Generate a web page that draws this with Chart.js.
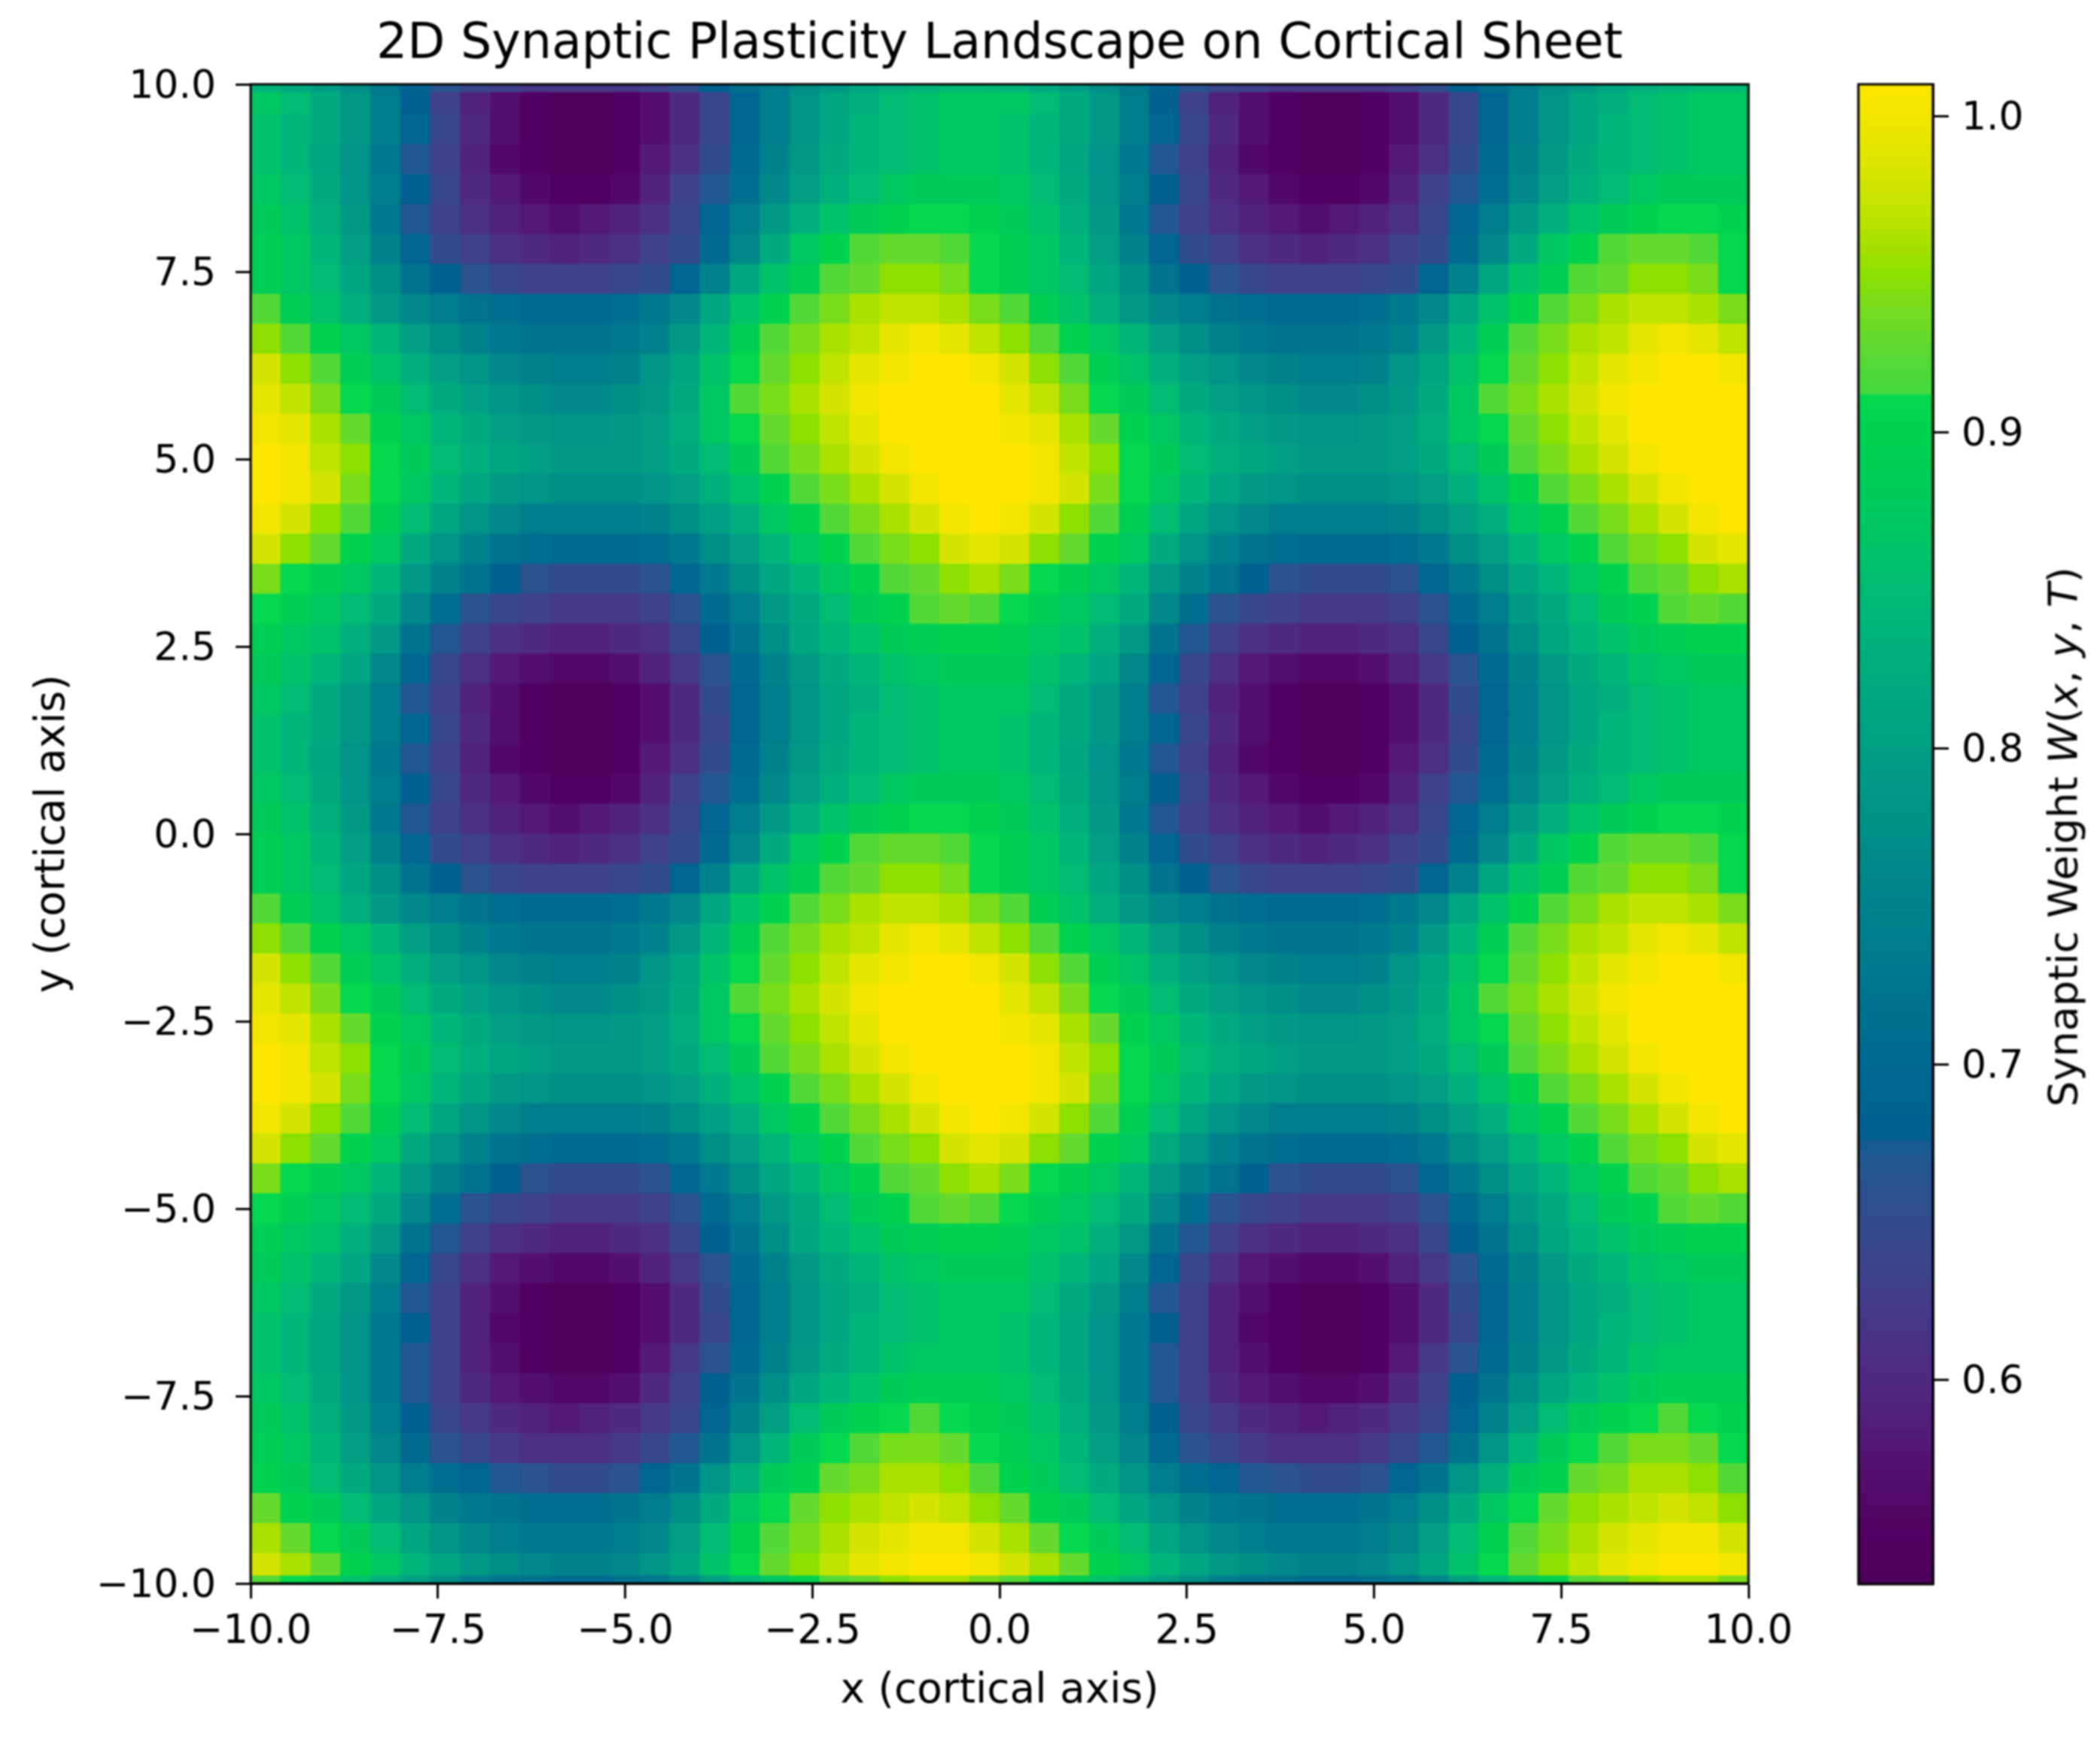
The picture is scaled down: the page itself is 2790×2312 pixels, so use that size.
<!DOCTYPE html>
<html><head><meta charset="utf-8">
<script src="https://cdn.jsdelivr.net/npm/chart.js@4"></script>
<style>
html,body{margin:0;padding:0;background:#fff;width:2790px;height:2312px;overflow:hidden}
#page{position:absolute;left:0;top:0;width:2790px;height:2312px;filter:blur(1.2px)}
canvas{position:absolute;top:0}
#main{left:0}
#bar{left:2400px}
#cbLabel{position:absolute;left:2741px;top:1112px;transform:translate(-50%,-50%) rotate(-90deg);white-space:nowrap;font:54px "DejaVu Sans";color:#000}
</style></head><body>
<div id="page">
<canvas id="main" width="2400" height="2312"></canvas>
<canvas id="bar" width="390" height="2312"></canvas>
<div id="cbLabel">Synaptic Weight <i>W</i>(<i>x</i>, <i>y</i>, <i>T</i>)</div>
</div>
<script>
const titleText = "2D Synaptic Plasticity Landscape on Cortical Sheet";
const xTitle = "x (cortical axis)";
const yTitle = "y (cortical axis)";
const axisTicks = [-10,-7.5,-5,-2.5,0,2.5,5,7.5,10];
const barTicks = [0.6,0.7,0.8,0.9,1.0];
const vMin = 0.5354, vMax = 1.0102;
const xCenters = [-9.8,-9.4,-9,-8.6,-8.2,-7.8,-7.4,-7,-6.6,-6.2,-5.8,-5.4,-5,-4.6,-4.2,-3.8,-3.4,-3,-2.6,-2.2,-1.8,-1.4,-1,-0.6,-0.2,0.2,0.6,1,1.4,1.8,2.2,2.6,3,3.4,3.8,4.2,4.6,5,5.4,5.8,6.2,6.6,7,7.4,7.8,8.2,8.6,9,9.4,9.8];
const yCenters = [9.8,9.4,9,8.6,8.2,7.8,7.4,7,6.6,6.2,5.8,5.4,5,4.6,4.2,3.8,3.4,3,2.6,2.2,1.8,1.4,1,0.6,0.2,-0.2,-0.6,-1,-1.4,-1.8,-2.2,-2.6,-3,-3.4,-3.8,-4.2,-4.6,-5,-5.4,-5.8,-6.2,-6.6,-7,-7.4,-7.8,-8.2,-8.6,-9,-9.4,-9.8];
// synaptic weight x 100, top row first
const weightRows = [
[87,85,82,79,74,68,63,59,57,55,54,54,55,57,60,64,69,74,78,81,83,85,86,87,87,87,85,82,79,74,68,63,59,57,55,54,54,55,57,60,64,69,74,78,81,83,85,86,87,87],
[86,84,82,79,74,69,64,60,57,55,54,54,55,57,60,64,69,74,78,81,84,85,86,87,87,86,84,82,79,74,69,64,60,57,55,54,54,55,57,60,64,69,74,78,81,84,85,86,87,87],
[86,84,81,78,73,67,63,59,56,55,54,54,55,58,61,65,70,75,79,82,84,85,86,87,87,86,84,81,78,73,67,63,59,56,55,54,54,55,58,61,65,70,75,79,82,84,85,86,87,87],
[87,85,82,78,74,68,64,60,58,56,55,55,56,59,63,67,71,76,80,83,85,87,88,88,88,87,85,82,78,74,68,64,60,58,56,55,55,56,59,63,67,71,76,80,83,85,87,88,88,88],
[88,86,83,79,73,67,63,61,59,58,57,58,59,61,64,69,74,79,83,86,88,90,91,91,90,88,86,83,79,73,67,63,61,59,58,57,58,59,61,64,69,74,79,83,86,88,90,91,91,90],
[89,87,84,80,75,69,65,63,61,60,59,60,61,63,65,70,76,82,87,90,92,93,93,92,91,89,87,84,80,75,69,65,63,61,60,59,60,61,63,65,70,76,82,87,90,92,93,93,92,91],
[89,87,85,81,77,72,68,66,64,63,63,63,64,65,69,75,81,86,89,92,93,95,95,94,91,89,87,85,81,77,72,68,66,64,63,63,63,64,65,69,75,81,86,89,92,93,95,95,94,91],
[92,89,86,83,79,76,74,72,71,70,70,70,71,73,76,81,86,90,92,94,96,97,97,96,94,92,89,86,83,79,76,74,72,71,70,70,70,71,73,76,81,86,90,92,94,96,97,97,96,94],
[95,92,90,87,84,80,77,75,73,72,72,72,73,75,79,84,89,92,94,96,97,99,100,99,97,95,92,90,87,84,80,77,75,73,72,72,72,73,75,79,84,89,92,94,96,97,99,100,99,97],
[98,95,92,89,86,83,80,78,76,75,74,74,75,78,81,86,91,93,95,97,99,100,101,101,100,98,95,92,89,86,83,80,78,76,75,74,74,75,78,81,86,91,93,95,97,99,100,101,101,100],
[99,97,94,91,88,85,82,80,78,77,76,76,77,79,82,87,92,94,96,98,100,101,101,101,101,99,97,94,91,88,85,82,80,78,77,76,76,77,79,82,87,92,94,96,98,100,101,101,101,101],
[100,99,96,93,90,87,84,82,80,79,78,78,79,80,83,87,91,93,95,97,99,101,101,101,101,100,99,96,93,90,87,84,82,80,79,78,78,79,80,83,87,91,93,95,97,99,101,101,101,101],
[101,100,97,95,91,88,85,83,81,80,79,79,79,80,82,85,88,92,94,96,98,100,101,101,101,101,100,97,95,91,88,85,83,81,80,79,79,79,80,82,85,88,92,94,96,98,100,101,101,101],
[101,100,98,94,91,87,84,81,79,78,77,77,77,78,80,83,86,90,92,94,96,98,100,101,101,101,100,98,94,91,87,84,81,79,78,77,77,77,78,80,83,86,90,92,94,96,98,100,101,101],
[100,98,95,92,89,85,81,78,76,74,74,74,74,75,77,80,83,87,90,92,94,96,98,100,101,100,98,95,92,89,85,81,78,76,74,74,74,74,75,77,80,83,87,90,92,94,96,98,100,101],
[98,95,93,90,87,82,78,75,72,71,70,70,70,71,73,77,80,84,87,90,92,94,95,98,99,98,95,93,90,87,82,78,75,72,71,70,70,70,71,73,77,80,84,87,90,92,94,95,98,99],
[94,91,89,87,84,79,75,72,68,66,65,65,65,66,69,73,77,81,84,87,90,92,93,95,96,94,91,89,87,84,79,75,72,68,66,65,65,65,66,69,73,77,81,84,87,90,92,93,95,96],
[91,89,87,85,82,76,71,66,64,63,62,62,62,63,66,70,74,79,82,85,88,90,92,93,92,91,89,87,85,82,76,71,66,64,63,62,62,62,63,66,70,74,79,82,85,88,90,92,93,92],
[89,87,86,83,79,72,67,63,61,60,59,59,60,61,64,68,72,77,81,84,86,88,89,90,90,89,87,86,83,79,72,67,63,61,60,59,59,60,61,64,68,72,77,81,84,86,88,89,90,90],
[88,86,84,81,76,69,64,61,58,57,56,56,57,59,62,66,70,75,79,82,84,86,87,88,88,88,86,84,81,76,69,64,61,58,57,56,56,57,59,62,66,70,75,79,82,84,86,87,88,88],
[87,85,82,79,74,67,63,59,57,55,54,54,55,57,60,65,69,74,78,81,83,85,86,87,87,87,85,82,79,74,67,63,59,57,55,54,54,55,57,60,65,69,74,78,81,83,85,86,87,87],
[86,84,82,79,74,69,64,60,57,55,54,54,55,57,60,64,69,74,78,81,84,85,86,87,87,86,84,82,79,74,69,64,60,57,55,54,54,55,57,60,64,69,74,78,81,84,85,86,87,87],
[86,84,81,78,73,67,63,59,56,55,54,54,55,58,61,65,70,75,79,82,84,85,86,87,87,86,84,81,78,73,67,63,59,56,55,54,54,55,58,61,65,70,75,79,82,84,85,86,87,87],
[87,85,82,78,74,68,64,60,58,56,55,55,56,59,63,67,71,76,80,83,85,87,88,88,88,87,85,82,78,74,68,64,60,58,56,55,55,56,59,63,67,71,76,80,83,85,87,88,88,88],
[88,86,83,79,73,67,63,61,59,58,57,58,59,61,64,69,74,79,83,86,88,90,91,91,90,88,86,83,79,73,67,63,61,59,58,57,58,59,61,64,69,74,79,83,86,88,90,91,91,90],
[89,87,84,80,75,69,65,63,61,60,59,60,61,63,65,70,76,82,87,90,92,93,93,92,91,89,87,84,80,75,69,65,63,61,60,59,60,61,63,65,70,76,82,87,90,92,93,93,92,91],
[89,87,85,81,77,72,68,66,64,63,63,63,64,65,69,75,81,86,89,92,93,95,95,94,91,89,87,85,81,77,72,68,66,64,63,63,63,64,65,69,75,81,86,89,92,93,95,95,94,91],
[92,89,86,83,79,76,74,72,71,70,70,70,71,73,76,81,86,90,92,94,96,97,97,96,94,92,89,86,83,79,76,74,72,71,70,70,70,71,73,76,81,86,90,92,94,96,97,97,96,94],
[95,92,90,87,84,80,77,75,73,72,72,72,73,75,79,84,89,92,94,96,97,99,100,99,97,95,92,90,87,84,80,77,75,73,72,72,72,73,75,79,84,89,92,94,96,97,99,100,99,97],
[98,95,92,89,86,83,80,78,76,75,74,74,75,78,81,86,91,93,95,97,99,100,101,101,100,98,95,92,89,86,83,80,78,76,75,74,74,75,78,81,86,91,93,95,97,99,100,101,101,100],
[99,97,94,91,88,85,82,80,78,77,76,76,77,79,82,87,92,94,96,98,100,101,101,101,101,99,97,94,91,88,85,82,80,78,77,76,76,77,79,82,87,92,94,96,98,100,101,101,101,101],
[100,99,96,93,90,87,84,82,80,79,78,78,79,80,83,87,91,93,95,97,99,101,101,101,101,100,99,96,93,90,87,84,82,80,79,78,78,79,80,83,87,91,93,95,97,99,101,101,101,101],
[101,100,97,95,91,88,85,83,81,80,79,79,79,80,82,85,88,92,94,96,98,100,101,101,101,101,100,97,95,91,88,85,83,81,80,79,79,79,80,82,85,88,92,94,96,98,100,101,101,101],
[101,100,98,94,91,87,84,81,79,78,77,77,77,78,80,83,86,90,92,94,96,98,100,101,101,101,100,98,94,91,87,84,81,79,78,77,77,77,78,80,83,86,90,92,94,96,98,100,101,101],
[100,98,95,92,89,85,81,78,76,74,74,74,74,75,77,80,83,87,90,92,94,96,98,100,101,100,98,95,92,89,85,81,78,76,74,74,74,74,75,77,80,83,87,90,92,94,96,98,100,101],
[98,95,93,90,87,82,78,75,72,71,70,70,70,71,73,77,80,84,87,90,92,94,95,98,99,98,95,93,90,87,82,78,75,72,71,70,70,70,71,73,77,80,84,87,90,92,94,95,98,99],
[94,91,89,87,84,79,75,72,68,66,65,65,65,66,69,73,77,81,84,87,90,92,93,95,96,94,91,89,87,84,79,75,72,68,66,65,65,65,66,69,73,77,81,84,87,90,92,93,95,96],
[91,89,87,85,82,76,71,66,64,63,62,62,62,63,66,70,74,79,82,85,88,90,92,93,92,91,89,87,85,82,76,71,66,64,63,62,62,62,63,66,70,74,79,82,85,88,90,92,93,92],
[89,87,86,83,79,72,67,63,61,60,59,59,60,61,64,68,72,77,81,84,86,88,89,90,90,89,87,86,83,79,72,67,63,61,60,59,59,60,61,64,68,72,77,81,84,86,88,89,90,90],
[88,86,84,81,76,69,64,61,58,57,56,56,57,59,62,66,70,75,79,82,84,86,87,88,88,88,86,84,81,76,69,64,61,58,57,56,56,57,59,62,66,70,75,79,82,84,86,87,88,88],
[87,85,82,79,74,67,63,59,57,55,54,54,55,57,60,65,69,74,78,81,83,85,86,87,87,87,85,82,79,74,67,63,59,57,55,54,54,55,57,60,65,69,74,78,81,83,85,86,87,87],
[86,84,81,78,73,68,63,59,56,55,54,54,55,57,60,64,69,74,78,81,84,85,86,87,87,86,84,81,78,73,68,63,59,56,55,54,54,55,57,60,64,69,74,78,81,84,85,86,87,87],
[86,84,81,78,73,67,63,59,57,55,54,54,55,58,62,66,70,75,79,82,84,86,87,87,87,86,84,81,78,73,67,63,59,57,55,54,54,55,58,62,66,70,75,79,82,84,86,87,87,87],
[87,85,82,78,73,67,63,60,58,57,56,56,57,60,63,68,72,77,81,84,86,88,89,89,89,87,85,82,78,73,67,63,60,58,57,56,56,57,60,63,68,72,77,81,84,86,88,89,89,89],
[88,86,83,79,74,68,64,62,60,59,58,59,60,62,64,69,75,80,85,88,90,91,92,91,90,88,86,83,79,74,68,64,62,60,59,58,59,60,62,64,69,75,80,85,88,90,91,92,91,90],
[89,87,84,80,76,70,66,64,62,61,61,61,62,64,67,72,78,84,88,91,92,94,94,93,91,89,87,84,80,76,70,66,64,62,61,61,61,62,64,67,72,78,84,88,91,92,94,94,93,91],
[90,88,85,82,78,74,71,69,67,66,65,65,66,69,72,78,83,88,90,93,94,96,96,95,92,90,88,85,82,78,74,71,69,67,66,65,65,66,69,72,78,83,88,90,93,94,96,96,95,92],
[93,90,88,85,81,78,75,73,72,71,71,71,72,74,77,82,87,91,93,95,96,97,98,97,95,93,90,88,85,81,78,75,73,72,71,71,71,72,74,77,82,87,91,93,95,96,97,98,97,95],
[96,93,91,88,85,81,78,76,74,73,73,73,74,76,80,85,90,92,94,96,98,99,100,100,98,96,93,91,88,85,81,78,76,74,73,73,73,74,76,80,85,90,92,94,96,98,99,100,100,98],
[98,96,93,90,87,84,81,79,77,76,75,75,76,78,81,86,91,93,95,97,99,100,101,101,100,98,96,93,90,87,84,81,79,77,76,75,75,76,78,81,86,91,93,95,97,99,100,101,101,100]
];
// thin outermost bands along the top and bottom edge of the field
const topEdgeRow = [84,82,80,77,73,69,66,64,63,62,62,62,62,63,65,68,71,74,77,79,81,83,84,85,85,84,82,80,77,73,69,66,64,63,62,62,62,62,63,65,68,71,74,77,79,81,83,84,85,85];
const bottomEdgeRow = [92,91,89,86,83,80,77,74,72,71,70,70,71,73,76,80,84,87,90,92,93,95,96,96,94,92,91,89,86,83,80,77,74,72,71,70,70,71,73,76,80,84,87,90,92,93,95,96,96,94];
const edgeYs = [10.1,-10.1];
// colour scale
const cmapValues = [0.535,0.55,0.57,0.585,0.6,0.613,0.63,0.655,0.672,0.677,0.7,0.75,0.8,0.84,0.864,0.883,0.9,0.91,0.913,0.925,0.937,0.951,0.956,0.968,0.98,0.992,1.01];
const cmapColors = ["#4d0058","#500060","#540f6c","#521e78","#4f2a80","#4a3285","#3f4189","#2e4f8c","#1f5890","#005f90","#006a90","#00828c","#009f83","#00b57a","#00c466","#00cc58","#00d250","#05d84e","#45d83c","#5cd934","#74dc20","#90e000","#a0e000","#bde300","#d4e400","#e8e600","#ffe600"];

function hex(c){return [1,3,5].map(i=>parseInt(c.substr(i,2),16));}
function colourOf(v){
  if(v<=cmapValues[0])return cmapColors[0];
  for(let i=1;i<cmapValues.length;i++){
    if(v<=cmapValues[i]){
      const t=(v-cmapValues[i-1])/(cmapValues[i]-cmapValues[i-1]);
      const a=hex(cmapColors[i-1]),b=hex(cmapColors[i]);
      return "rgb("+a.map((p,k)=>Math.round(p+(b[k]-p)*t)).join(",")+")";
    }
  }
  return cmapColors[cmapColors.length-1];
}
const FONT="'DejaVu Sans'";
const cells=[];
weightRows.forEach((row,r)=>row.forEach((v,c)=>cells.push({x:xCenters[c],y:yCenters[r],v:v/100})));
topEdgeRow.forEach((v,c)=>cells.push({x:xCenters[c],y:edgeYs[0],v:v/100}));
bottomEdgeRow.forEach((v,c)=>cells.push({x:xCenters[c],y:edgeYs[1],v:v/100}));

const frame={id:"frame",afterDraw(chart){
  const a=chart.chartArea,c=chart.ctx;
  c.save();c.strokeStyle="#000";c.lineWidth=3;c.strokeRect(a.left,a.top,a.right-a.left,a.bottom-a.top);c.restore();
}};
const tickFmt=v=>{const s=Number(v).toFixed(1);return s.replace("-","\u2212");};

new Chart(document.getElementById("main"),{
  type:"scatter",
  data:{datasets:[{
    data:cells,
    showLine:false,
    clip:0,
    pointStyle:"rect",
    pointBorderWidth:0,
    pointBackgroundColor:cells.map(d=>colourOf(d.v)),
    pointRadius:ctx=>{
      const s=ctx.chart.scales.x;
      return (Math.abs(s.getPixelForValue(0.4)-s.getPixelForValue(0))+1)/Math.SQRT2;
    }
  }]},
  options:{
    responsive:false,animation:false,events:[],
    layout:{padding:{left:0,right:77,top:0,bottom:0}},
    plugins:{legend:{display:false},tooltip:{enabled:false},
      title:{display:true,fullSize:false,text:titleText,color:"#000",font:{family:FONT,size:65,weight:"normal",lineHeight:1},padding:{top:28,bottom:19}}},
    scales:{
      x:{type:"linear",min:-10,max:10,
        afterBuildTicks:s=>{s.ticks=axisTicks.map(v=>({value:v}));},
        afterFit:s=>{s.height=208;},
        grid:{drawOnChartArea:false,tickLength:20,tickWidth:3,tickColor:"#000"},
        border:{color:"#000",width:3},
        ticks:{color:"#000",font:{family:FONT,size:53},padding:13,maxRotation:0,autoSkip:false,callback:tickFmt},
        title:{display:true,text:xTitle,color:"#000",font:{family:FONT,size:55,lineHeight:1.2},padding:{top:0,bottom:31}}},
      y:{type:"linear",min:-10,max:10,
        afterBuildTicks:s=>{s.ticks=axisTicks.map(v=>({value:v}));},
        afterFit:s=>{s.width=333;},
        grid:{drawOnChartArea:false,tickLength:20,tickWidth:3,tickColor:"#000"},
        border:{color:"#000",width:3},
        ticks:{color:"#000",font:{family:FONT,size:52},padding:26,labelOffset:4,autoSkip:false,callback:tickFmt},
        title:{display:true,text:yTitle,color:"#000",font:{family:FONT,size:55,lineHeight:1.2},padding:{top:38,bottom:0}}}
    }
  },
  plugins:[frame]
});

const barLevels=[];
for(let v=vMin;v<vMax;v+=0.004)barLevels.push(v);
new Chart(document.getElementById("bar"),{
  type:"bar",
  data:{labels:["W"],datasets:barLevels.map(v=>({
    data:[[v,Math.min(v+0.0045,vMax)]],
    backgroundColor:colourOf(v+0.002),
    barPercentage:1,categoryPercentage:1,grouped:false,borderWidth:0
  }))},
  options:{
    responsive:false,animation:false,events:[],
    layout:{padding:{left:69,right:0,top:112,bottom:207}},
    plugins:{legend:{display:false},tooltip:{enabled:false}},
    scales:{
      x:{display:false},
      y:{type:"linear",position:"right",min:vMin,max:vMax,
        afterBuildTicks:s=>{s.ticks=barTicks.map(v=>({value:v}));},
        afterFit:s=>{s.width=222;},
        grid:{drawOnChartArea:false,tickLength:21,tickWidth:3,tickColor:"#000"},
        border:{color:"#000",width:3},
        ticks:{color:"#000",font:{family:FONT,size:52},padding:17,labelOffset:4,autoSkip:false,callback:tickFmt}}
    }
  },
  plugins:[frame]
});
</script>
</body></html>
